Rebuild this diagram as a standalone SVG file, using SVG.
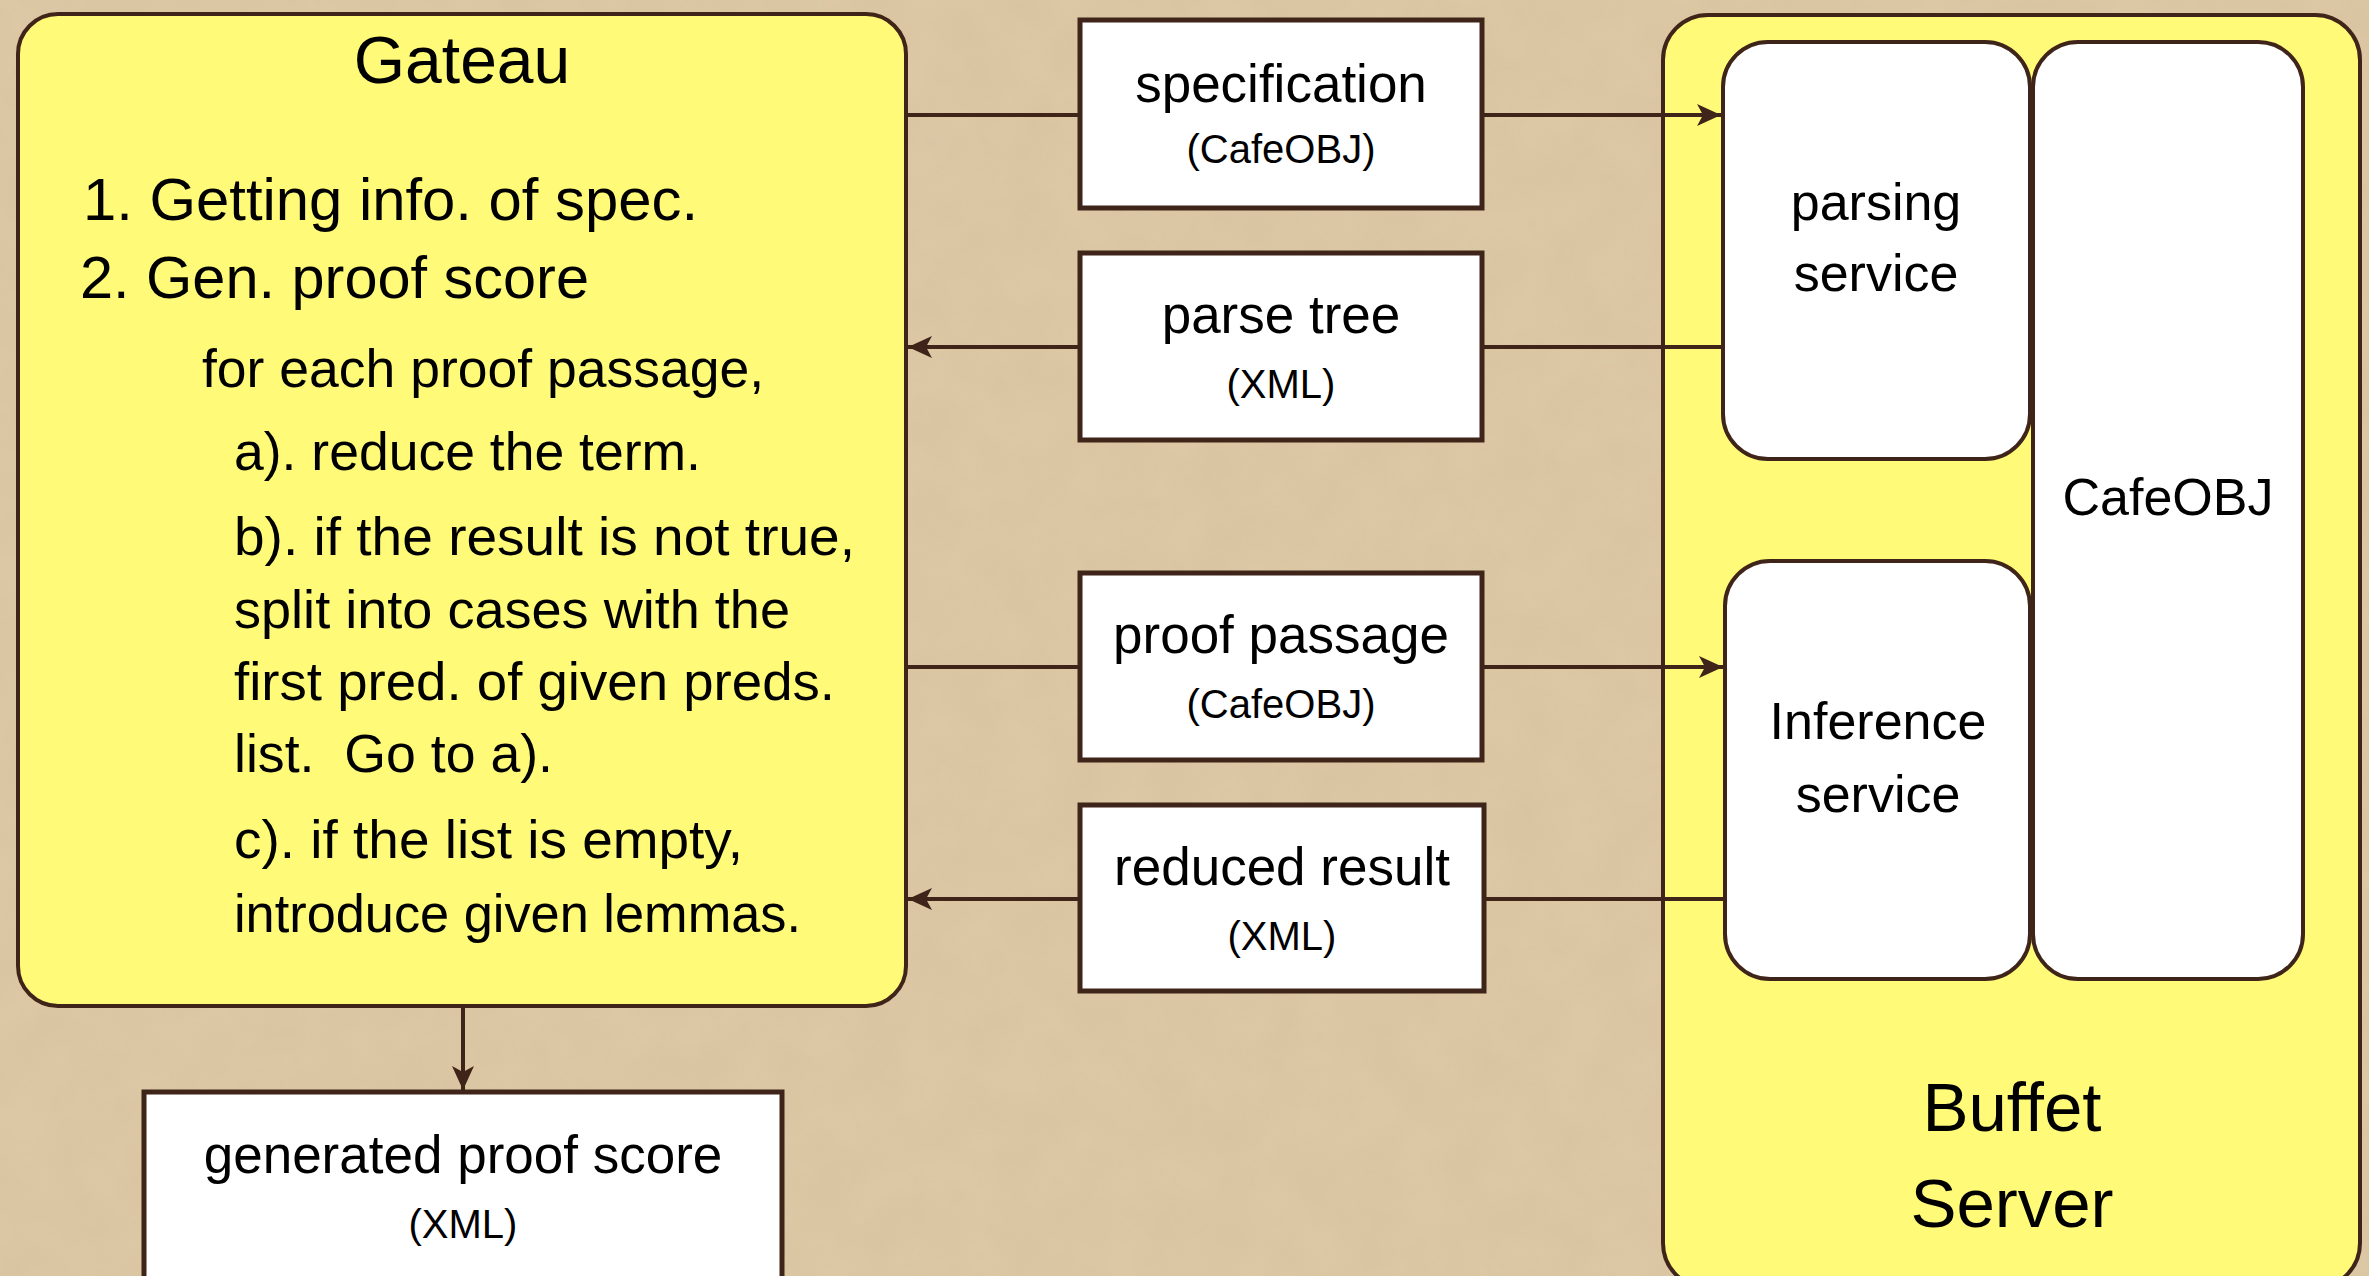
<svg xmlns="http://www.w3.org/2000/svg" width="2369" height="1276" viewBox="0 0 2369 1276">
  <style>
    text { font-family: "Liberation Sans", Arial, sans-serif; fill: #000; }
    .yel { fill: #fffa78; stroke: #3f2519; stroke-width: 4; }
    .wht { fill: #ffffff; stroke: #3f2519; stroke-width: 4; }
    .box { fill: #ffffff; stroke: #3f2519; stroke-width: 5; }
    .conn { fill: none; stroke: #3f2519; stroke-width: 4; }
    .main { font-size: 60px; }
    .sub { font-size: 53.5px; }
    .lbl { font-size: 53px; text-anchor: middle; }
    .fmt { font-size: 40px; text-anchor: middle; }
    .svc { font-size: 52px; text-anchor: middle; }
  </style>
  <defs>
    <marker id="arrow" markerUnits="userSpaceOnUse" markerWidth="26" markerHeight="24" refX="24" refY="12" orient="auto">
      <path d="M0,1 L24,12 L0,23 L6,12 Z" fill="#3f2519"/>
    </marker>
    <filter id="paper" x="0" y="0" width="100%" height="100%">
      <feTurbulence type="fractalNoise" baseFrequency="0.02" numOctaves="3" seed="4" result="n"/>
      <feColorMatrix in="n" type="matrix" values="0 0 0 0 0.55  0 0 0 0 0.42  0 0 0 0 0.25  0 0 0 0.35 -0.08"/>
    </filter>
  </defs>

  <rect id="background" x="0" y="0" width="2369" height="1276" fill="#dcc8a5"/>
  <rect x="0" y="0" width="2369" height="1276" filter="url(#paper)" opacity="0.6"/>

  <g id="gateau">
    <rect class="yel" x="18" y="14" width="888" height="992" rx="40" ry="40"/>
    <text x="462" y="83" font-size="66" text-anchor="middle">Gateau</text>
    <text class="main" x="83" y="220" textLength="615" lengthAdjust="spacingAndGlyphs">1. Getting info. of spec.</text>
    <text class="main" x="80" y="298" textLength="509" lengthAdjust="spacingAndGlyphs">2. Gen. proof score</text>
    <text class="sub" x="202" y="387" textLength="562" lengthAdjust="spacingAndGlyphs">for each proof passage,</text>
    <text class="sub" x="234" y="470" textLength="467" lengthAdjust="spacingAndGlyphs">a). reduce the term.</text>
    <text class="sub" x="234" y="555" textLength="621" lengthAdjust="spacingAndGlyphs">b). if the result is not true,</text>
    <text class="sub" x="234" y="628" textLength="556" lengthAdjust="spacingAndGlyphs">split into cases with the</text>
    <text class="sub" x="234" y="700" textLength="601" lengthAdjust="spacingAndGlyphs">first pred. of given preds.</text>
    <text class="sub" x="234" y="772" textLength="319" lengthAdjust="spacingAndGlyphs" xml:space="preserve">list.  Go to a).</text>
    <text class="sub" x="234" y="858" textLength="509" lengthAdjust="spacingAndGlyphs">c). if the list is empty,</text>
    <text class="sub" x="234" y="932" textLength="567" lengthAdjust="spacingAndGlyphs">introduce given lemmas.</text>
  </g>

  <g id="buffet-server">
    <rect class="yel" x="1663" y="15" width="697" height="1273" rx="45" ry="45"/>
    <text x="2012" y="1131" font-size="69" text-anchor="middle">Buffet</text>
    <text x="2012" y="1227" font-size="69" text-anchor="middle">Server</text>
  </g>

  <g id="parsing-service">
    <rect class="wht" x="1723" y="42" width="307" height="417" rx="45" ry="45"/>
    <text class="svc" x="1876" y="220">parsing</text>
    <text class="svc" x="1876" y="291">service</text>
  </g>

  <g id="cafeobj">
    <rect class="wht" x="2033" y="42" width="270" height="937" rx="45" ry="45"/>
    <text class="svc" x="2168" y="515">CafeOBJ</text>
  </g>

  <g id="inference-service">
    <rect class="wht" x="1725" y="561" width="305" height="418" rx="45" ry="45"/>
    <text class="svc" x="1878" y="739">Inference</text>
    <text class="svc" x="1878" y="812">service</text>
  </g>

  <g id="connectors">
    <path class="conn" d="M906,115 H1080"/>
    <path class="conn" d="M1482,115 H1721" marker-end="url(#arrow)"/>
    <path class="conn" d="M1723,347 H1482"/>
    <path class="conn" d="M1080,347 H908" marker-end="url(#arrow)"/>
    <path class="conn" d="M906,667 H1080"/>
    <path class="conn" d="M1482,667 H1723" marker-end="url(#arrow)"/>
    <path class="conn" d="M1725,899 H1484"/>
    <path class="conn" d="M1080,899 H908" marker-end="url(#arrow)"/>
    <path class="conn" d="M463,1008 V1090" marker-end="url(#arrow)"/>
  </g>

  <g id="specification">
    <rect class="box" x="1080" y="20" width="402" height="188"/>
    <text class="lbl" x="1281" y="102">specification</text>
    <text class="fmt" x="1281" y="163">(CafeOBJ)</text>
  </g>

  <g id="parse-tree">
    <rect class="box" x="1080" y="253" width="402" height="187"/>
    <text class="lbl" x="1281" y="333">parse tree</text>
    <text class="fmt" x="1281" y="398">(XML)</text>
  </g>

  <g id="proof-passage">
    <rect class="box" x="1080" y="573" width="402" height="187"/>
    <text class="lbl" x="1281" y="653">proof passage</text>
    <text class="fmt" x="1281" y="718">(CafeOBJ)</text>
  </g>

  <g id="reduced-result">
    <rect class="box" x="1080" y="805" width="404" height="186"/>
    <text class="lbl" x="1282" y="885">reduced result</text>
    <text class="fmt" x="1282" y="950">(XML)</text>
  </g>

  <g id="generated-proof-score">
    <rect class="box" x="144" y="1092" width="638" height="250"/>
    <text class="lbl" x="463" y="1173">generated proof score</text>
    <text class="fmt" x="463" y="1238">(XML)</text>
  </g>
</svg>
